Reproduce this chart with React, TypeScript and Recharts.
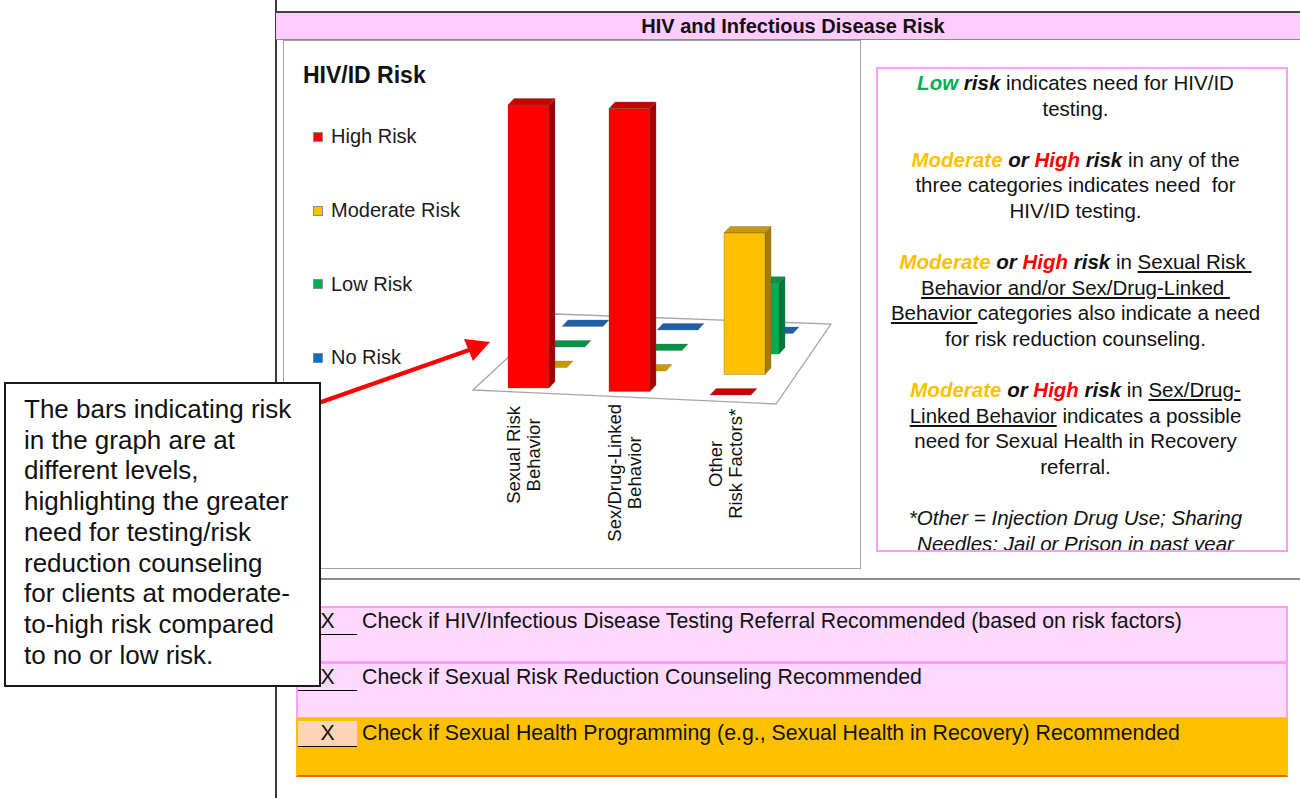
import React from 'react';
import { BarChart, Bar, XAxis, YAxis, Legend } from 'recharts';

const categories = ['Sexual Risk\nBehavior', 'Sex/Drug-Linked\nBehavior', 'Other\nRisk Factors*'];
const highRisk = [4, 4, 0];
const moderateRisk = [0, 0, 2];
const lowRisk = [0, 0, 1];
const noRisk = [0, 0, 0];

const seriesNames = ['High Risk', 'Moderate Risk', 'Low Risk', 'No Risk'];
const seriesKeys = ['high', 'moderate', 'low', 'none'];
const frontColors = ['#ff0000', '#ffc000', '#00b050', '#0070c0'];
const sideColors = ['#a00000', '#a67c00', '#007a38', '#004a80'];
const topColors = ['#c80000', '#c89a00', '#009444', '#1f5fa8'];

const data = categories.map((name, i) => ({
  name,
  high: highRisk[i],
  moderate: moderateRisk[i],
  low: lowRisk[i],
  none: noRisk[i],
}));

const FONT = '"Liberation Sans", Arial, sans-serif';

// fake 3D: each series sits one step further back, floor drops a bit to the right
const BOX_DX = 6;
const BOX_DY = -6.5;
const depthShift = (depth: number, index: number) => ({
  dx: depth * (18 - 2 * index),
  dy: -depth * 20.5 + index * 3.5,
});

function makeBox(depth: number) {
  return (props: any) => {
    const { x, y, width, height, index } = props;
    const { dx, dy } = depthShift(depth, index || 0);
    const x0 = x + dx;
    const y0 = y + dy;
    const w = width;
    const h = Math.max(0, height || 0);
    const stroke = 'rgba(90,90,90,0.55)';
    const top = `${x0},${y0} ${x0 + w},${y0} ${x0 + w + BOX_DX},${y0 + BOX_DY} ${x0 + BOX_DX},${y0 + BOX_DY}`;
    if (h < 0.5) {
      return <polygon points={top} fill={topColors[depth]} stroke={stroke} strokeWidth={0.5} />;
    }
    const side = `${x0 + w},${y0} ${x0 + w + BOX_DX},${y0 + BOX_DY} ${x0 + w + BOX_DX},${y0 + h + BOX_DY} ${x0 + w},${y0 + h}`;
    return (
      <g>
        <polygon points={side} fill={sideColors[depth]} stroke={stroke} strokeWidth={0.6} />
        <polygon points={top} fill={topColors[depth]} stroke={stroke} strokeWidth={0.6} />
        <rect x={x0} y={y0} width={w} height={h} fill={frontColors[depth]} stroke={stroke} strokeWidth={0.6} />
      </g>
    );
  };
}

const CategoryTick = (props: any) => {
  const { x, y, payload } = props;
  const lines = String(payload.value).split('\n');
  const longest = Math.max(...lines.map((l) => l.length));
  const cy = y + 10 + longest * 4.45;
  return (
    <g>
      {lines.map((l, i) => (
        <text
          key={i}
          x={0}
          y={0}
          transform={`translate(${x - 15.5 + i * 20},${cy}) rotate(-90)`}
          textAnchor="middle"
          dominantBaseline="central"
          fontSize={18.5}
          fontFamily={FONT}
          fill="#111"
        >
          {l}
        </text>
      ))}
    </g>
  );
};

const renderLegend = (props: any) => {
  const items = [...(props.payload || [])].sort(
    (a: any, b: any) => seriesNames.indexOf(a.value) - seriesNames.indexOf(b.value)
  );
  return (
    <div style={{ fontFamily: FONT, fontSize: 20, color: '#1a1a1a' }}>
      {items.map((it: any) => (
        <div key={it.value} style={{ height: 73.7, display: 'flex', alignItems: 'center' }}>
          <span
            style={{
              display: 'inline-block',
              width: 8,
              height: 8,
              background: it.color,
              border: '1px solid #8c8c8c',
              marginRight: 8,
            }}
          />
          <span>{it.value}</span>
        </div>
      ))}
    </div>
  );
};

const boldItalic = { fontWeight: 'bold' as const, fontStyle: 'italic' as const };
const Low = () => <span style={{ ...boldItalic, color: '#00b050' }}>Low</span>;
const Mod = () => <span style={{ ...boldItalic, color: '#ffc000' }}>Moderate</span>;
const High = () => <span style={{ ...boldItalic, color: '#ff0000' }}>High</span>;
const Bi = ({ t }: { t: string }) => <span style={boldItalic}>{t}</span>;

function CheckRow({ top, height, bg, border, bottom, cellBg, text }: any) {
  return (
    <div
      style={{
        position: 'absolute',
        left: 296,
        top,
        width: 992,
        height,
        boxSizing: 'border-box',
        background: bg,
        border: `2px solid ${border}`,
        borderBottom: `2px solid ${bottom || border}`,
        fontSize: 21.3,
        color: '#111',
      }}
    >
      <div
        style={{
          position: 'absolute',
          left: 0,
          top: 1,
          width: 59,
          height: 26,
          boxSizing: 'border-box',
          background: cellBg || 'transparent',
          borderBottom: '1.5px solid #000',
          lineHeight: '24px',
          textAlign: 'center',
        }}
      >
        X
      </div>
      <div style={{ position: 'absolute', left: 64, top: 1, lineHeight: '24px', whiteSpace: 'nowrap' }}>{text}</div>
    </div>
  );
}

export default function App() {
  return (
    <div style={{ position: 'relative', width: 1300, height: 798, overflow: 'hidden', fontFamily: FONT, background: '#fff' }}>
      <style>{'body{margin:0}'}</style>

      <div style={{ position: 'absolute', left: 275, top: 0, width: 2, height: 798, background: '#3a3a3a' }} />

      <div
        style={{
          position: 'absolute',
          left: 276,
          top: 11,
          width: 1024,
          height: 29,
          boxSizing: 'border-box',
          background: '#ffccff',
          borderTop: '2px solid #404040',
          borderBottom: '1px solid #8c8c8c',
          textAlign: 'center',
          fontWeight: 'bold',
          fontSize: 20,
          lineHeight: '26px',
          paddingLeft: 10,
          color: '#111',
        }}
      >
        HIV and Infectious Disease Risk
      </div>

      {/* chart frame */}
      <div
        style={{
          position: 'absolute',
          left: 283,
          top: 40,
          width: 578,
          height: 529,
          boxSizing: 'border-box',
          border: '1px solid #a0a0a0',
          background: '#fff',
        }}
      />

      {/* floor of the 3D plot */}
      <svg style={{ position: 'absolute', left: 0, top: 0 }} width={1300} height={798}>
        <polygon points="473,390 776,404 831,324 555,314" fill="#fff" stroke="#a6a6a6" strokeWidth={1.3} />
      </svg>

      <div style={{ position: 'absolute', left: 283, top: 41 }}>
        <BarChart width={578} height={528} data={data} margin={{ top: 64, right: 80, bottom: 121, left: 195 }}>
          <XAxis
            xAxisId={0}
            dataKey="name"
            axisLine={false}
            tickLine={false}
            interval={0}
            height={60}
            tick={<CategoryTick />}
          />
          <XAxis xAxisId={1} dataKey="name" hide />
          <XAxis xAxisId={2} dataKey="name" hide />
          <XAxis xAxisId={3} dataKey="name" hide />
          <YAxis hide domain={[0, 4]} />
          <Legend
            layout="vertical"
            align="center"
            verticalAlign="middle"
            wrapperStyle={{ left: 30, top: 59, width: 170 }}
            content={renderLegend}
          />
          {[3, 2, 1, 0].map((d) => (
            <Bar
              key={seriesKeys[d]}
              xAxisId={d}
              dataKey={seriesKeys[d]}
              name={seriesNames[d]}
              fill={frontColors[d]}
              barSize={41}
              shape={makeBox(d)}
              isAnimationActive={false}
            />
          ))}
        </BarChart>
      </div>

      <div style={{ position: 'absolute', left: 303, top: 62, fontSize: 23, fontWeight: 'bold', lineHeight: '26px', color: '#111' }}>
        HIV/ID Risk
      </div>

      {/* notes panel */}
      <div
        style={{
          position: 'absolute',
          left: 876,
          top: 67,
          width: 412,
          height: 485,
          boxSizing: 'border-box',
          border: '2px solid #ff9cff',
          overflow: 'hidden',
          textAlign: 'center',
          fontSize: 20.5,
          lineHeight: '25.6px',
          paddingTop: 1,
          paddingRight: 13,
          color: '#111',
          whiteSpace: 'pre',
        }}
      >
        <div>
          <Low /> <Bi t="risk" /> indicates need for HIV/ID
          <br />
          testing.
        </div>
        <div style={{ marginTop: 25.6 }}>
          <Mod /> <Bi t="or" /> <High /> <Bi t="risk" /> in any of the
          <br />
          {'three categories indicates need  for'}
          <br />
          HIV/ID testing.
        </div>
        <div style={{ marginTop: 25.6 }}>
          <Mod /> <Bi t="or" /> <High /> <Bi t="risk" /> in <u>{'Sexual Risk '}</u>
          <br />
          <u>{'Behavior and/or Sex/Drug-Linked '}</u>
          <br />
          <u>{'Behavior '}</u>categories also indicate a need
          <br />
          for risk reduction counseling.
        </div>
        <div style={{ marginTop: 25.6 }}>
          <Mod /> <Bi t="or" /> <High /> <Bi t="risk" /> in <u>Sex/Drug-</u>
          <br />
          <u>Linked Behavior</u> indicates a possible
          <br />
          need for Sexual Health in Recovery
          <br />
          referral.
        </div>
        <div style={{ marginTop: 25.6, fontStyle: 'italic' }}>
          *Other = Injection Drug Use; Sharing
          <br />
          Needles; Jail or Prison in past year
        </div>
      </div>

      <div style={{ position: 'absolute', left: 276, top: 578, width: 1024, height: 2, background: '#8c8c8c' }} />

      <CheckRow
        top={606}
        height={57}
        bg="#ffd9ff"
        border="#ff9cff"
        text="Check if HIV/Infectious Disease Testing Referral Recommended (based on risk factors)"
      />
      <CheckRow top={662} height={57} bg="#ffd9ff" border="#ff9cff" text="Check if Sexual Risk Reduction Counseling Recommended" />
      <CheckRow
        top={718}
        height={59}
        bg="#ffc000"
        border="#ffc000"
        bottom="#e26b0a"
        cellBg="#fcd5b4"
        text="Check if Sexual Health Programming (e.g., Sexual Health in Recovery) Recommended"
      />

      {/* red pointer arrow */}
      <svg style={{ position: 'absolute', left: 0, top: 0 }} width={1300} height={798}>
        <line x1={290} y1={413} x2={472} y2={349} stroke="#ff0000" strokeWidth={4.5} />
        <polygon points="490,342 464,339 473,361" fill="#ff0000" />
      </svg>

      <div
        style={{
          position: 'absolute',
          left: 4,
          top: 382,
          width: 317,
          height: 305,
          boxSizing: 'border-box',
          border: '2px solid #1a1a1a',
          background: '#fff',
          paddingLeft: 18,
          paddingTop: 10,
          fontSize: 26,
          lineHeight: '30.7px',
          whiteSpace: 'nowrap',
          color: '#111',
        }}
      >
        The bars indicating risk
        <br />
        in the graph are at
        <br />
        different levels,
        <br />
        highlighting the greater
        <br />
        need for testing/risk
        <br />
        reduction counseling
        <br />
        for clients at moderate-
        <br />
        to-high risk compared
        <br />
        to no or low risk.
      </div>
    </div>
  );
}
